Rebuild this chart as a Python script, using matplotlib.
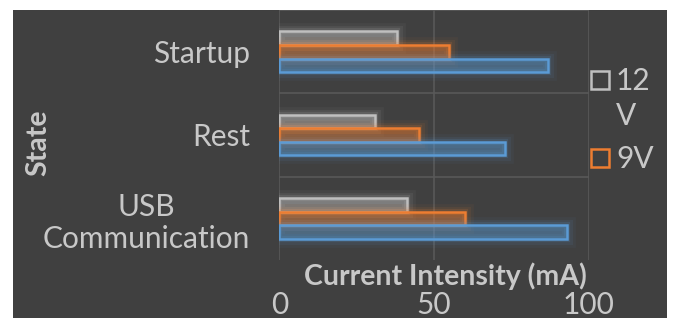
import matplotlib
matplotlib.use("Agg")
import matplotlib.pyplot as plt
import matplotlib.patheffects as pe
from matplotlib.patches import Rectangle
import numpy as np

# ---- data ----
categories = ["Startup", "Rest", "USB\nCommunication"]
series_names = ["12\nV", "9V", "5V"]
values_12v = [38.1, 31.0, 41.2]
values_9v = [55.0, 45.2, 60.0]
values_5v = [86.9, 73.0, 92.9]
x_ticks = [0, 50, 100]
x_label = "Current Intensity (mA)"
y_label = "State"

colors = ["#BFBFBF", "#ED7D31", "#5B9BD5"]
txt = "#C8C8C8"
bg = "#404040"
grid = "#595959"
FONT = "Lato"
FS = 21.5

W, H = 673, 318
fig = plt.figure(figsize=(W / 100, H / 100), dpi=100, facecolor="white")
# dark chart area
fig.patches.append(Rectangle((13 / W, 0), (667 - 13) / W, 1 - 10 / H,
                             transform=fig.transFigure, facecolor=bg,
                             edgecolor="none", zorder=-10))

ax = fig.add_axes([279.3 / W, 1 - 260 / H, (588.6 - 279.3) / W, 250 / H])
ax.set_facecolor(bg)
ax.patch.set_alpha(0)

y = np.arange(len(categories))
h = 0.164
offsets = [-h, 0, h]
all_vals = [values_12v, values_9v, values_5v]

for vals, off, c in zip(all_vals, offsets, colors):
    bars = ax.barh(y + off, vals, height=h, facecolor=matplotlib.colors.to_rgba(c, 0.22),
                   edgecolor=c, linewidth=1.8, zorder=3)
    for b in bars:
        b.set_path_effects([
            pe.Stroke(linewidth=12, foreground=c, alpha=0.05),
            pe.Stroke(linewidth=8, foreground=c, alpha=0.08),
            pe.Stroke(linewidth=4.5, foreground=c, alpha=0.15),
            pe.Normal(),
        ])

ax.set_xlim(0, 100)
ax.set_ylim(2.5, -0.5)

# grid lines
for gx in x_ticks:
    ax.axvline(gx, color=grid, lw=1.2, zorder=1)
for gy in [-0.5, 0.5, 1.5]:
    ax.axhline(gy, color=grid, lw=1.2, zorder=1)

for s in ax.spines.values():
    s.set_visible(False)

ax.set_yticks(y)
ax.set_yticklabels(categories, fontsize=FS, color=txt, fontname=FONT,
                   multialignment="center", linespacing=1.2)
ax.set_xticks(x_ticks)
ax.set_xticklabels([str(t) for t in x_ticks], fontsize=FS, color=txt, fontname=FONT)
ax.tick_params(axis="y", length=0, pad=21)
ax.tick_params(axis="x", length=0, pad=22)

ax.set_xlabel(x_label, fontsize=20.5, fontweight="bold", color=txt, fontname=FONT)
ax.xaxis.set_label_coords(0.536, -0.066)
ax.xaxis.label.set_va("center")
ax.set_ylabel(y_label, fontsize=20.5, fontweight="bold", color=txt, fontname=FONT)
ax.yaxis.set_label_coords(-0.78, 0.468)
ax.yaxis.label.set_va("center")

# manual legend (only the two visible entries)
leg_y = [80, 158]
for name, c, ly in zip(series_names[:2], colors[:2], leg_y):
    fig.patches.append(Rectangle((590.5 / W, 1 - (ly + 9) / H), 18 / W, 18 / H,
                                 transform=fig.transFigure, facecolor="none",
                                 edgecolor=c, linewidth=1.8))
    fig.text(616 / W, 1 - (ly - 13) / H, name, fontsize=FS, color=txt,
             fontname=FONT, ha="left", va="top", linespacing=1.3)

fig.savefig("out.png", dpi=100, facecolor="white")
